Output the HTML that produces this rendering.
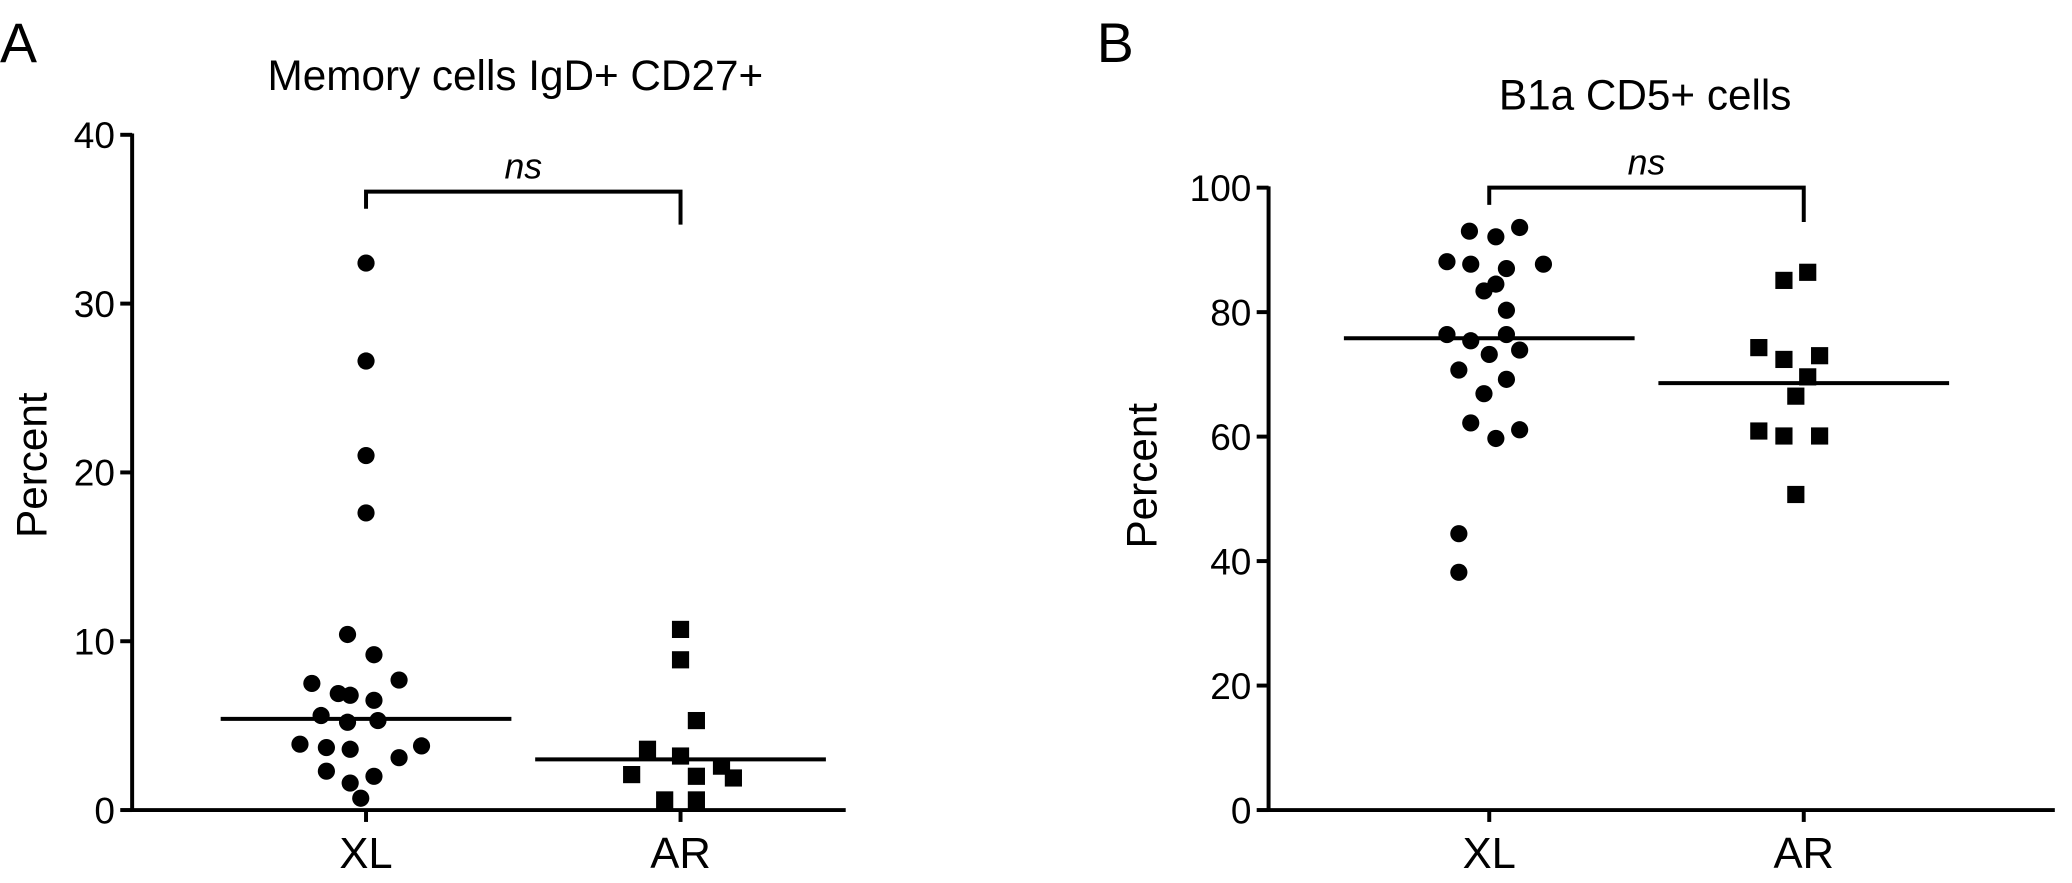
<!DOCTYPE html>
<html><head><meta charset="utf-8"><style>
html,body{margin:0;padding:0;background:#fff;}
svg{display:block;font-family:"Liberation Sans",Arial,sans-serif;}
</style></head><body>
<svg id="fig" width="2072" height="883" viewBox="0 0 1568 668.2" xmlns="http://www.w3.org/2000/svg">
<g id="pa"></g>
<g id="pb"></g>
</svg>
<script>
// Panel A data
const aCategories = ["XL", "AR"];
const aXL = [32.4, 26.6, 21.0, 17.6, 10.4, 9.2, 7.5, 6.9, 7.7, 6.8, 6.5, 5.6, 5.3, 5.2, 3.9, 3.7, 3.8, 3.6, 3.1, 2.3, 2.0, 1.6, 0.7];
const aXLJitter = [0, 0, 0, 0, -14, 6, -41, -21, 25, -12, 6, -34, 9, -14, -50, -30, 42, -12, 25, -30, 6, -12, -4];
const aAR = [10.7, 8.9, 5.3, 3.6, 3.2, 2.6, 2.1, 2.0, 1.9, 0.6, 0.6];
const aARJitter = [0, 0, 12, -25, 0, 31, -37, 12, 40, -12, 12];
const aMedians = [5.4, 3.0];
const aTicks = [0, 10, 20, 30, 40];
// Panel B data
const bCategories = ["XL", "AR"];
const bXL = [93.0, 92.1, 93.6, 88.1, 87.7, 87.0, 87.7, 84.5, 83.4, 80.3, 76.4, 75.4, 76.4, 73.2, 73.9, 70.7, 69.2, 66.9, 62.2, 61.1, 59.7, 44.4, 38.2];
const bXLJitter = [-15, 5, 23, -32, -14, 13, 41, 5, -4, 13, -32, -14, 13, 0, 23, -23, 13, -4, -14, 23, 5, -23, -23];
const bAR = [85.1, 86.4, 74.3, 72.4, 73.0, 69.6, 66.5, 60.9, 60.1, 60.1, 50.7];
const bARJitter = [-15, 3, -34, -15, 12, 3, -6, -34, -15, 12, -6];
const bMedians = [75.8, 68.6];
const bTicks = [0, 20, 40, 60, 80, 100];

const NS = "http://www.w3.org/2000/svg";
function mk(parent, tag, attrs, text) {
  const e = document.createElementNS(NS, tag);
  for (const k in attrs) e.setAttribute(k, attrs[k]);
  if (text !== undefined) e.textContent = text;
  parent.appendChild(e);
  return e;
}

function drawPanel(g, cfg) {
  const y = v => cfg.y0 - (v - 0) / cfg.ymax * (cfg.y0 - cfg.ytop);
  const x = i => cfg.xc[i];
  let e = mk(g, "line", {x1: cfg.ax, y1: cfg.ytop - 1, x2: cfg.ax, y2: cfg.y0 + 1.5, stroke: "#000", "stroke-width": 3});
  
  
  e = mk(g, "line", {x1: cfg.ax, y1: cfg.y0, x2: cfg.xend, y2: cfg.y0, stroke: "#000", "stroke-width": 3});
  
  
  cfg.ticks.forEach(t => {
    const l = mk(g, "line", {x1: cfg.ax - 9, y1: y(t), x2: cfg.ax, y2: y(t), stroke: "#000", "stroke-width": 3});
    
    
    const tx = mk(g, "text", {x: cfg.ax - 13, y: y(t) + 10, "text-anchor": "end", "font-size": 28}, String(t));
    
    
  });
  cfg.cats.forEach((c, i) => {
    const l = mk(g, "line", {x1: x(i), y1: cfg.y0, x2: x(i), y2: cfg.y0 + 9, stroke: "#000", "stroke-width": 3});
    
    
    const tx = mk(g, "text", {x: x(i), y: cfg.y0 + 44, "text-anchor": "middle", "font-size": 33}, c);
    
    
  });
  cfg.s1.forEach((v, k) => {
    const c = mk(g, "circle", {cx: x(0) + cfg.j1[k], cy: y(v), r: 6.5, fill: "#000"});
    
    
  });
  cfg.s2.forEach((v, k) => {
    const r = mk(g, "rect", {x: x(1) + cfg.j2[k] - 6.5, y: y(v) - 6.5, width: 13, height: 13, fill: "#000"});
    
    
  });
  cfg.med.forEach((m, i) => {
    const l = mk(g, "line", {x1: x(i) - 110, y1: y(m), x2: x(i) + 110, y2: y(m), stroke: "#000", "stroke-width": 3});
    
    
  });
  const br = mk(g, "path", {d: `M${x(0)},${cfg.bl} V${cfg.by} H${x(1)} V${cfg.br}`, fill: "none", stroke: "#000", "stroke-width": 3});
  
  
  const ns = mk(g, "text", {x: (x(0) + x(1)) / 2, y: cfg.by - 10, "text-anchor": "middle", "font-size": 27, "font-style": "italic"}, "ns");
  
  
  const t = mk(g, "text", {x: cfg.tx, y: cfg.ty, "text-anchor": "middle", "font-size": 32}, cfg.title);
  
  
  const p = mk(g, "text", {x: 0, y: 0, "text-anchor": "middle", "font-size": 32, transform: `translate(${cfg.px},${cfg.py}) rotate(-90)`}, "Percent");
  
  
  const L = mk(g, "text", {x: cfg.lx, y: 47, "font-size": 42}, cfg.letter);
  
  
}

drawPanel(document.getElementById("pa"), {
  ax: 100, xend: 640, y0: 613, ytop: 102, ymax: 40, xc: [277, 515], cats: aCategories,
  ticks: aTicks, s1: aXL, j1: aXLJitter, s2: aAR, j2: aARJitter, med: aMedians,
  by: 145, bl: 158, br: 170, title: "Memory cells IgD+ CD27+", tx: 390, ty: 68,
  px: 35, py: 352, lx: 0, letter: "A"
});
drawPanel(document.getElementById("pb"), {
  ax: 960, xend: 1555, y0: 613, ytop: 142, ymax: 100, xc: [1127, 1365], cats: bCategories,
  ticks: bTicks, s1: bXL, j1: bXLJitter, s2: bAR, j2: bARJitter, med: bMedians,
  by: 142, bl: 155, br: 168, title: "B1a CD5+ cells", tx: 1245, ty: 83,
  px: 875, py: 360, lx: 830, letter: "B"
});
</script>
</body></html>
